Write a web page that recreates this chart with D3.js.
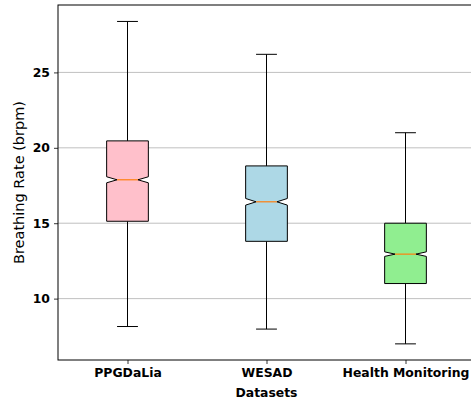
<!DOCTYPE html>
<html>
<head>
<meta charset="utf-8">
<script src="https://cdn.jsdelivr.net/npm/d3@7"></script>
<style>
  html, body { margin: 0; padding: 0; background: #fff; }
  svg { display: block; font-family: "DejaVu Sans", sans-serif; }
</style>
</head>
<body>
<svg id="canvas"></svg>
<script>
const width = 471;
const height = 400;

// datasets and their box stats
const categories = ["PPGDaLia", "WESAD", "Health Monitoring"];
const whiskerLow = [8.15, 7.98, 7.0];
const q1 = [15.13, 13.8, 11.0];
const medians = [17.88, 16.42, 12.95];
const q3 = [20.46, 18.8, 15.0];
const whiskerHigh = [28.38, 26.2, 21.0];
const notchHalf = [0.2, 0.22, 0.15];
const boxColors = ["#ffc0cb", "#add8e6", "#90ee90"];
const yTicks = [10, 15, 20, 25];

const margin = { left: 58, top: 5, bottom: 40 };

const svg = d3.select("#canvas")
  .attr("width", width)
  .attr("height", height);

// positions 1..3, xlim 0.5..3.5 like matplotlib
const xScale = d3.scaleLinear()
  .domain([0.5, 3.5])
  .range([margin.left, margin.left + 417]);

const yScale = d3.scaleLinear()
  .domain([5.93, 29.47])
  .range([height - margin.bottom, margin.top]);

const plotRight = xScale(3.5);

// grid
svg.append("g")
  .selectAll("line")
  .data(yTicks)
  .enter()
  .append("line")
  .attr("x1", margin.left)
  .attr("x2", plotRight)
  .attr("y1", d => yScale(d))
  .attr("y2", d => yScale(d))
  .attr("stroke", "#b0b0b0")
  .attr("stroke-width", 0.8);

const boxW = 0.3;
const capW = 0.15;

const data = categories.map((c, i) => ({
  name: c, pos: i + 1,
  lo: whiskerLow[i], q1: q1[i], med: medians[i], q3: q3[i], hi: whiskerHigh[i],
  notch: notchHalf[i], color: boxColors[i]
}));

const boxes = svg.append("g")
  .selectAll("g")
  .data(data)
  .enter()
  .append("g");

// whiskers
boxes.append("line")
  .attr("x1", d => xScale(d.pos)).attr("x2", d => xScale(d.pos))
  .attr("y1", d => yScale(d.q3)).attr("y2", d => yScale(d.hi))
  .attr("stroke", "#000").attr("stroke-width", 1);
boxes.append("line")
  .attr("x1", d => xScale(d.pos)).attr("x2", d => xScale(d.pos))
  .attr("y1", d => yScale(d.q1)).attr("y2", d => yScale(d.lo))
  .attr("stroke", "#000").attr("stroke-width", 1);

// caps
["hi", "lo"].forEach(k => {
  boxes.append("line")
    .attr("x1", d => xScale(d.pos - capW / 2)).attr("x2", d => xScale(d.pos + capW / 2))
    .attr("y1", d => yScale(d[k])).attr("y2", d => yScale(d[k]))
    .attr("stroke", "#000").attr("stroke-width", 1);
});

// notched box
boxes.append("path")
  .attr("d", d => {
    const l = xScale(d.pos - boxW / 2), r = xScale(d.pos + boxW / 2);
    const ml = xScale(d.pos - boxW / 4), mr = xScale(d.pos + boxW / 4);
    const p = d3.path();
    p.moveTo(l, yScale(d.q1));
    p.lineTo(r, yScale(d.q1));
    p.lineTo(r, yScale(d.med - d.notch));
    p.lineTo(mr, yScale(d.med));
    p.lineTo(r, yScale(d.med + d.notch));
    p.lineTo(r, yScale(d.q3));
    p.lineTo(l, yScale(d.q3));
    p.lineTo(l, yScale(d.med + d.notch));
    p.lineTo(ml, yScale(d.med));
    p.lineTo(l, yScale(d.med - d.notch));
    p.closePath();
    return p.toString();
  })
  .attr("fill", d => d.color)
  .attr("stroke", "#000")
  .attr("stroke-width", 1)
  .attr("stroke-linejoin", "miter");

// median
boxes.append("line")
  .attr("x1", d => xScale(d.pos - boxW / 4)).attr("x2", d => xScale(d.pos + boxW / 4))
  .attr("y1", d => yScale(d.med)).attr("y2", d => yScale(d.med))
  .attr("stroke", "#ff7f0e").attr("stroke-width", 1.2);

// axes
const yAxis = svg.append("g")
  .attr("transform", `translate(${margin.left},0)`)
  .call(d3.axisLeft(yScale).tickValues(yTicks).tickSize(4).tickPadding(4).tickFormat(d3.format("d")));
yAxis.select(".domain").remove();

const xAxis = svg.append("g")
  .attr("transform", `translate(0,${height - margin.bottom})`)
  .call(d3.axisBottom(xScale).tickValues([1, 2, 3]).tickSize(4).tickPadding(4)
    .tickFormat(d => categories[d - 1]));
xAxis.select(".domain").remove();

svg.selectAll(".tick text")
  .attr("font-family", "DejaVu Sans")
  .attr("font-size", 12.4)
  .attr("font-weight", "bold")
  .attr("fill", "#000");
svg.selectAll(".tick line").attr("stroke", "#000").attr("stroke-width", 0.8);

// spines (right one falls outside the window)
svg.append("rect")
  .attr("x", margin.left)
  .attr("y", margin.top)
  .attr("width", plotRight - margin.left)
  .attr("height", yScale.range()[0] - margin.top)
  .attr("fill", "none")
  .attr("stroke", "#000")
  .attr("stroke-width", 1);

svg.append("text")
  .attr("transform", `translate(24,${(margin.top + yScale.range()[0]) / 2}) rotate(-90)`)
  .attr("text-anchor", "middle")
  .attr("font-size", 14.5)
  .text("Breathing Rate (brpm)");

svg.append("text")
  .attr("x", xScale(2))
  .attr("y", 397)
  .attr("text-anchor", "middle")
  .attr("font-size", 12.4)
  .attr("font-weight", "bold")
  .text("Datasets");
</script>
</body>
</html>
